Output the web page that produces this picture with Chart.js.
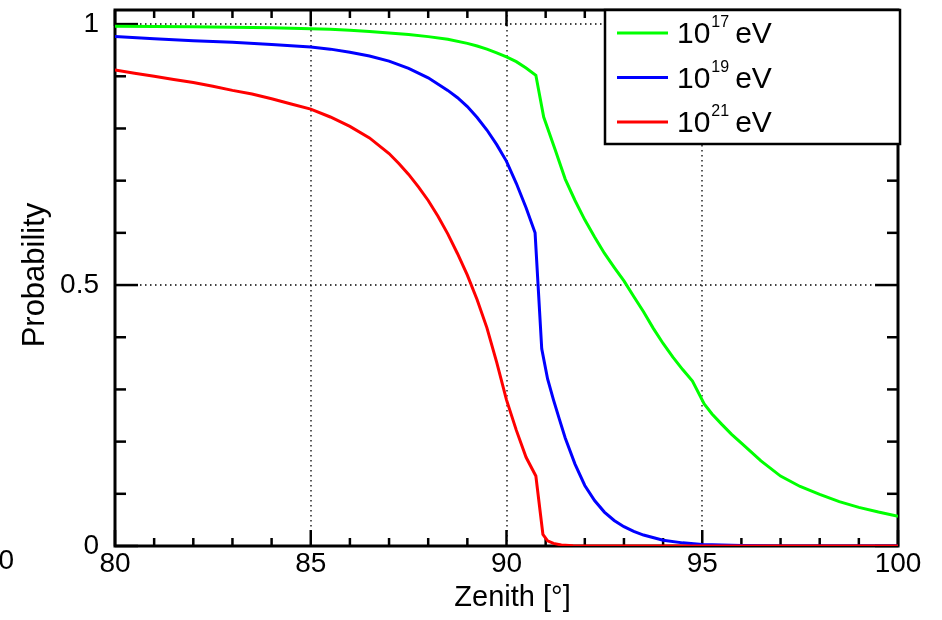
<!DOCTYPE html>
<html>
<head>
<meta charset="utf-8">
<script src="https://cdn.jsdelivr.net/npm/chart.js@4.4.1/dist/chart.umd.min.js"></script>
<style>
  body { margin: 0; background: #fff; }
  #wrap { width: 942px; height: 620px; position: relative; }
</style>
</head>
<body>
<div id="wrap"><canvas id="probChart"></canvas></div>
<script>
// Probability vs zenith angle for three primary energies

const zenith17 = [80, 81, 82, 83, 84, 85, 85.5, 86, 86.5, 87, 87.5, 88, 88.5, 89, 89.25, 89.5, 89.75, 90, 90.25, 90.5, 90.75, 90.95, 91.25, 91.5, 91.75, 92, 92.25, 92.5, 92.75, 93, 93.25, 93.5, 93.75, 94, 94.25, 94.5, 94.75, 95.05, 95.25, 95.5, 95.75, 96, 96.5, 97, 97.5, 98, 98.5, 99, 99.5, 100];
const prob17 = [0.996, 0.9955, 0.995, 0.994, 0.993, 0.991, 0.990, 0.988, 0.986, 0.983, 0.980, 0.976, 0.971, 0.963, 0.958, 0.952, 0.945, 0.937, 0.928, 0.916, 0.902, 0.822, 0.758, 0.703, 0.662, 0.625, 0.592, 0.561, 0.534, 0.508, 0.478, 0.449, 0.417, 0.388, 0.362, 0.338, 0.316, 0.272, 0.253, 0.233, 0.214, 0.197, 0.163, 0.134, 0.114, 0.099, 0.085, 0.074, 0.065, 0.057];

const zenith19 = [80, 81, 82, 83, 84, 85, 85.5, 86, 86.5, 87, 87.5, 88, 88.5, 88.75, 89, 89.25, 89.5, 89.75, 90, 90.25, 90.5, 90.73, 90.9, 91.05, 91.2, 91.35, 91.5, 91.75, 92, 92.25, 92.5, 92.75, 93, 93.25, 93.5, 94, 94.5, 95, 96, 97, 100];
const prob19 = [0.976, 0.972, 0.968, 0.965, 0.961, 0.956, 0.952, 0.946, 0.939, 0.929, 0.915, 0.897, 0.873, 0.859, 0.842, 0.821, 0.797, 0.769, 0.737, 0.695, 0.648, 0.600, 0.378, 0.320, 0.280, 0.243, 0.207, 0.157, 0.116, 0.087, 0.065, 0.049, 0.037, 0.028, 0.021, 0.011, 0.006, 0.003, 0.001, 0, 0];

const zenith21 = [80, 80.5, 81, 81.5, 82, 82.5, 83, 83.5, 84, 84.5, 85, 85.5, 86, 86.5, 87, 87.25, 87.5, 87.75, 88, 88.25, 88.5, 88.75, 89, 89.25, 89.5, 89.75, 90, 90.25, 90.5, 90.75, 90.93, 91.05, 91.2, 91.4, 91.7, 92, 100];
const prob21 = [0.912, 0.906, 0.900, 0.894, 0.888, 0.881, 0.873, 0.866, 0.857, 0.847, 0.837, 0.822, 0.804, 0.782, 0.752, 0.733, 0.712, 0.688, 0.662, 0.632, 0.598, 0.560, 0.519, 0.472, 0.418, 0.352, 0.280, 0.222, 0.170, 0.134, 0.022, 0.010, 0.005, 0.002, 0.0003, 0, 0];

const xTicks = [80, 85, 90, 95, 100];
const yTicks = [0, 0.5, 1];
const energyExp = ['17', '19', '21'];

const font = "'Liberation Sans', Arial, Helvetica, sans-serif";

function toPoints(xs, ys) {
  return xs.map((x, i) => ({ x: x, y: ys[i] }));
}

// ROOT style frame: dotted grid, ticks on all four sides, thick border
const rootFrame = {
  id: 'rootFrame',
  beforeDatasetsDraw(chart) {
    const { ctx, chartArea: a, scales: { x, y } } = chart;
    const seg = (x1, y1, x2, y2) => { ctx.beginPath(); ctx.moveTo(x1, y1); ctx.lineTo(x2, y2); ctx.stroke(); };
    ctx.save();

    ctx.strokeStyle = '#000';
    ctx.lineWidth = 1.3;
    ctx.setLineDash([1.5, 3.5]);
    xTicks.slice(1, -1).forEach(v => {
      const px = Math.round(x.getPixelForValue(v));
      seg(px, a.top, px, a.bottom);
    });
    yTicks.slice(1).forEach(v => {
      const py = Math.round(y.getPixelForValue(v));
      seg(a.left, py, a.right, py);
    });
    ctx.setLineDash([]);

    ctx.lineWidth = 2.5;
    for (let v = 80; v <= 100; v++) {
      const px = x.getPixelForValue(v);
      const len = v % 5 === 0 ? 16 : 8;
      seg(px, a.bottom, px, a.bottom - len);
      seg(px, a.top, px, a.top + len);
    }
    for (let k = 0; k <= 10; k++) {
      const py = y.getPixelForValue(k / 10);
      const len = k % 5 === 0 ? 23 : 11;
      seg(a.left, py, a.left + len, py);
      seg(a.right, py, a.right - len, py);
    }

    ctx.lineWidth = 3;
    ctx.strokeRect(a.left, a.top, a.right - a.left, a.bottom - a.top);
    ctx.restore();
  },
  afterDraw(chart) {
    const { ctx, chartArea: a } = chart;
    ctx.save();
    ctx.fillStyle = '#000';

    // axis titles
    ctx.font = '29px ' + font;
    ctx.textAlign = 'center';
    ctx.textBaseline = 'alphabetic';
    ctx.fillText('Zenith [\u00b0]', (a.left + a.right) / 2 + 6, 606);
    ctx.save();
    ctx.font = '31px ' + font;
    ctx.translate(44, (a.top + a.bottom) / 2 - 3);
    ctx.rotate(-Math.PI / 2);
    ctx.fillText('Probability', 0, 0);
    ctx.restore();

    // stray label at the left edge
    ctx.font = '28px ' + font;
    ctx.textAlign = 'right';
    ctx.fillText('100', 14, 569);

    // legend box
    const bx = 605, by = 10, bw = 295, bh = 134;
    ctx.fillStyle = '#fff';
    ctx.fillRect(bx, by, bw, bh);
    ctx.strokeStyle = '#000';
    ctx.lineWidth = 2.5;
    ctx.strokeRect(bx, by, bw, bh);

    chart.data.datasets.forEach((ds, i) => {
      const cy = 33 + i * 44.5;
      ctx.strokeStyle = ds.borderColor;
      ctx.lineWidth = 3;
      ctx.beginPath();
      ctx.moveTo(617, cy);
      ctx.lineTo(668, cy);
      ctx.stroke();

      ctx.fillStyle = '#000';
      ctx.textAlign = 'left';
      ctx.font = '30px ' + font;
      let tx = 677;
      ctx.fillText('10', tx, cy + 10);
      tx += ctx.measureText('10').width + 1;
      ctx.font = '16px ' + font;
      ctx.fillText(energyExp[i], tx, cy - 6);
      tx += ctx.measureText(energyExp[i]).width + 6;
      ctx.font = '30px ' + font;
      ctx.fillText('eV', tx, cy + 10);
    });
    ctx.restore();
  }
};

new Chart(document.getElementById('probChart'), {
  type: 'line',
  data: {
    datasets: [
      { label: '10^17 eV', data: toPoints(zenith17, prob17), borderColor: '#00ff00', order: 2 },
      { label: '10^19 eV', data: toPoints(zenith19, prob19), borderColor: '#0000ff', order: 1 },
      { label: '10^21 eV', data: toPoints(zenith21, prob21), borderColor: '#ff0000', order: 0 }
    ]
  },
  options: {
    responsive: true,
    maintainAspectRatio: false,
    animation: false,
    layout: { padding: { left: 0, top: 10, right: 44, bottom: 0 } },
    elements: {
      line: { borderWidth: 3, tension: 0, fill: false },
      point: { radius: 0 }
    },
    scales: {
      x: {
        type: 'linear',
        min: 80, max: 100,
        afterFit: s => { s.height = 74; s.paddingLeft = 0; s.paddingRight = 0; },
        afterBuildTicks: s => { s.ticks = xTicks.map(v => ({ value: v })); },
        grid: { display: false },
        border: { display: false },
        ticks: { color: '#000', padding: -7, maxRotation: 0, font: { family: font, size: 28 } }
      },
      y: {
        min: 0, max: 1.027,
        afterFit: s => { s.width = 115; s.paddingTop = 0; s.paddingBottom = 0; },
        afterBuildTicks: s => { s.ticks = yTicks.map(v => ({ value: v })); },
        grid: { display: false },
        border: { display: false },
        ticks: { color: '#000', padding: 8, font: { family: font, size: 28 }, callback: v => String(v) }
      }
    },
    plugins: {
      legend: { display: false },
      tooltip: { enabled: false }
    }
  },
  plugins: [rootFrame]
});
</script>
</body>
</html>
